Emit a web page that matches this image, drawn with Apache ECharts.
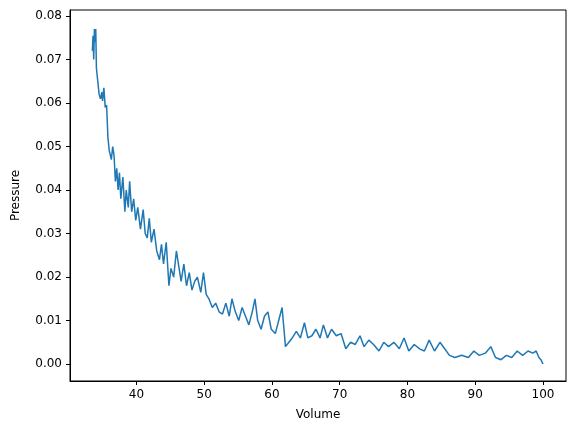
<!DOCTYPE html>
<html>
<head>
<meta charset="utf-8">
<script src="https://cdn.jsdelivr.net/npm/echarts@6/dist/echarts.min.js"></script>
<style>html,body{margin:0;padding:0;background:#fff}#chart{width:576px;height:434px}</style>
</head>
<body>
<div id="chart"></div>
<script>
// volume / pressure readings
var volume = [33.5, 33.6, 33.7, 33.8, 33.9, 34.0, 34.1, 34.3, 34.5, 34.7, 34.9, 35.0, 35.2, 35.4, 35.6, 35.8, 36.0,
  36.3, 36.5, 36.7, 36.9, 37.1, 37.3, 37.5, 37.7, 38.0, 38.3, 38.5, 38.8, 39.0, 39.3, 39.6, 39.9, 40.2, 40.6,
  41.0, 41.3, 41.6, 41.9, 42.2, 42.6, 43.0, 43.4, 43.7, 44.0, 44.4, 44.8, 45.1, 45.5, 45.9, 46.3, 46.6, 47.0,
  47.4, 47.8, 48.2, 48.6, 49.0, 49.5, 49.9, 50.3, 50.7, 51.2, 51.7, 52.2, 52.7, 53.2, 53.7, 54.1, 54.6, 55.1,
  55.6, 56.1, 56.6, 57.1, 57.5, 57.9, 58.4, 58.9, 59.4, 59.9, 60.5, 61.0, 61.5, 62.0, 62.5, 63.0, 63.6, 64.2,
  64.8, 65.3, 65.9, 66.5, 67.1, 67.6, 68.2, 68.8, 69.5, 70.2, 70.9, 71.6, 72.3, 73.0, 73.6, 74.3, 75.0, 75.8,
  76.5, 77.2, 78.0, 78.8, 79.5, 80.2, 81.0, 81.8, 82.5, 83.2, 84.0, 84.8, 85.5, 86.2, 87.0, 88.0, 89.0, 89.8,
  90.6, 91.5, 92.3, 93.0, 93.8, 94.6, 95.4, 96.2, 97.0, 97.8, 98.5, 99.0, 99.4, 99.7, 100.0];
var pressure = [0.0720, 0.0755, 0.0700, 0.0770, 0.0740, 0.0770, 0.0680, 0.0650, 0.0620, 0.0610, 0.0625, 0.0605, 0.0635, 0.0590, 0.0595, 0.0520, 0.0490,
  0.0470, 0.0500, 0.0480, 0.0420, 0.0450, 0.0400, 0.0440, 0.0380, 0.0430, 0.0350, 0.0400, 0.0360, 0.0420, 0.0350, 0.0380, 0.0330, 0.0360, 0.0310,
  0.0355, 0.0300, 0.0290, 0.0335, 0.0280, 0.0310, 0.0260, 0.0240, 0.0275, 0.0230, 0.0280, 0.0180, 0.0220, 0.0200, 0.0260, 0.0220, 0.0190, 0.0230,
  0.0180, 0.0210, 0.0170, 0.0190, 0.0200, 0.0165, 0.0210, 0.0160, 0.0150, 0.0130, 0.0140, 0.0120, 0.0115, 0.0140, 0.0110, 0.0150, 0.0120, 0.0100,
  0.0130, 0.0110, 0.0090, 0.0120, 0.0150, 0.0100, 0.0080, 0.0110, 0.0120, 0.0080, 0.0070, 0.0100, 0.0130, 0.0040, 0.0050, 0.0060, 0.0075, 0.0060,
  0.0095, 0.0060, 0.0065, 0.0080, 0.0060, 0.0090, 0.0060, 0.0080, 0.0065, 0.0070, 0.0035, 0.0050, 0.0045, 0.0065, 0.0040, 0.0055, 0.0045, 0.0030,
  0.0050, 0.0040, 0.0050, 0.0035, 0.0060, 0.0030, 0.0045, 0.0035, 0.0030, 0.0055, 0.0030, 0.0050, 0.0035, 0.0020, 0.0015, 0.0020, 0.0015, 0.0030,
  0.0020, 0.0025, 0.0040, 0.0015, 0.0010, 0.0020, 0.0015, 0.0030, 0.0020, 0.0030, 0.0025, 0.0030, 0.0015, 0.0010, 0.0000];
var xTicks = [40, 50, 60, 70, 80, 90, 100];
var yTicks = [0, 0.01, 0.02, 0.03, 0.04, 0.05, 0.06, 0.07, 0.08];

var points = volume.map(function(v, i) { return [v, pressure[i]]; });

var chart = echarts.init(document.getElementById('chart'));
var axisText = { color: '#000', fontSize: 12, fontFamily: 'DejaVu Sans' };
chart.setOption({
  animation: false,
  grid: { left: 70, right: 10, top: 10, bottom: 53, show: true, borderColor: '#000', borderWidth: 1 },
  xAxis: {
    type: 'value', min: 30.2, max: 103.4,
    name: 'Volume', nameLocation: 'middle', nameGap: 28,
    nameTextStyle: axisText,
    axisLine: { onZero: false, lineStyle: { color: '#000' } },
    axisTick: { lineStyle: { color: '#000' }, length: 4, customValues: xTicks },
    axisLabel: Object.assign({ customValues: xTicks }, axisText),
    splitLine: { show: false }
  },
  yAxis: {
    type: 'value', min: -0.0039, max: 0.0814,
    name: 'Pressure', nameLocation: 'middle', nameGap: 48,
    nameTextStyle: axisText,
    axisLine: { show: true, lineStyle: { color: '#000' } },
    axisTick: { show: true, lineStyle: { color: '#000' }, length: 4, customValues: yTicks },
    axisLabel: Object.assign({
      customValues: yTicks,
      formatter: function(v) { return v.toFixed(2); }
    }, axisText),
    splitLine: { show: false }
  },
  series: [{
    type: 'line', data: points, showSymbol: false,
    lineStyle: { color: '#1f77b4', width: 1.5 }
  }]
});
</script>
</body>
</html>
